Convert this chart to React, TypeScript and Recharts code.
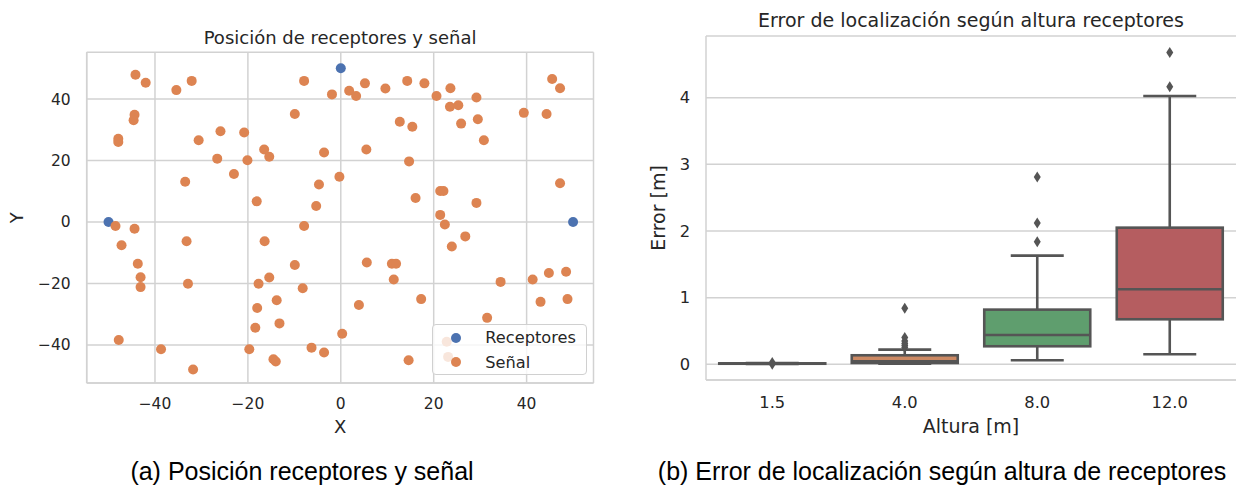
import {
  ScatterChart,
  Scatter,
  ComposedChart,
  Bar,
  XAxis,
  YAxis,
  CartesianGrid,
  Legend,
} from "recharts";

// Posición de los receptores [m]
const receptoresX = [-50, 0, 50];
const receptoresY = [0, 50, 0];

// Posición de las señales emitidas [m]
const senalX = [
  -44.2, -42.0, -35.4, -32.1, -7.9, -1.9, -9.9, -44.4, -44.6, -47.9, -47.9, -30.6, -25.9, -20.8,
  -16.5, -15.4, -26.6, -20.1, -3.6, -23.0, -33.5, -4.7, -0.3, -18.1, -5.3, 1.8, 3.3, 5.2, 9.6,
  14.3, 18.0, 20.6, 23.6, 23.5, 25.3, 29.2, 45.5, 47.2, 39.4, 44.3, 12.7, 15.4, 25.9, 29.5, 30.8,
  5.5, 14.7, 21.4, 22.1, 16.1, 29.2, 21.4, 22.4, 26.8, 23.9, 47.2, -48.5, -44.4, -47.2, -33.2,
  -16.4, -7.9, -43.7, -43.1, -43.1, -32.9, -9.9, -15.4, -17.7, -8.2, -13.8, -18.0, -13.2, -18.4,
  -47.8, -38.7, -19.7, -6.3, -3.6, -14.5, -14.0, -31.8, 0.3, 5.6, 11.0, 11.9, 11.4, 17.3, 3.9,
  14.6, 34.4, 31.5, 41.3, 44.8, 48.5, 43.0, 48.8, 22.8, 23.1,
];
const senalY = [
  47.9, 45.3, 42.9, 45.9, 45.9, 41.5, 35.1, 34.9, 33.1, 27.1, 26.0, 26.6, 29.5, 29.1, 23.6, 21.2,
  20.6, 20.1, 22.6, 15.6, 13.1, 12.2, 14.7, 6.7, 5.2, 42.7, 41.0, 45.1, 43.4, 45.9, 45.1, 41.0,
  43.5, 37.5, 38.0, 40.5, 46.5, 43.5, 35.5, 35.1, 32.6, 31.0, 32.0, 33.4, 26.6, 23.6, 19.7, 10.1,
  10.1, 7.8, 6.2, 2.3, -0.8, -4.7, -8.0, 12.6, -1.3, -2.2, -7.6, -6.3, -6.3, -1.3, -13.6, -18.0,
  -21.2, -20.1, -14.0, -18.1, -20.1, -21.6, -25.5, -28.0, -33.0, -34.4, -38.4, -41.4, -41.4,
  -40.9, -42.5, -44.7, -45.4, -48.0, -36.4, -13.2, -13.6, -13.6, -18.7, -25.1, -27.0, -45.0,
  -19.5, -31.2, -18.7, -16.6, -16.2, -26.0, -25.1, -39.0, -43.9,
];
const ticksPosicion = [-40, -20, 0, 20, 40];

// Error de localización [m] por altura de los receptores
const alturas = ["1.5", "4.0", "8.0", "12.0"];
const bigoteInf = [0.004, 0.01, 0.06, 0.15];
const cuartil1 = [0.008, 0.02, 0.27, 0.675];
const mediana = [0.011, 0.045, 0.44, 1.125];
const cuartil3 = [0.014, 0.135, 0.82, 2.05];
const bigoteSup = [0.02, 0.22, 1.63, 4.025];
const atipicos = [
  [0.0, 0.025],
  [0.25, 0.28, 0.31, 0.35, 0.4, 0.84],
  [1.84, 2.12, 2.81],
  [4.165, 4.68],
];
const ticksError = [0, 1, 2, 3, 4];

const colorReceptor = "#4c72b0";
const colorSenal = "#dd8452";
const coloresCaja = ["#5975a4", "#cc8963", "#5f9e6e", "#b55d60"];
const colorLinea = "#555555";
const colorRejilla = "#d2d2d2";
const colorTexto = "#262626";

const receptores = receptoresX.map((x, i) => ({ x, y: receptoresY[i] }));
const senales = senalX.map((x, i) => ({ x, y: senalY[i] }));

const filasCaja = alturas.map((altura, i) => ({
  altura,
  bigotes: [bigoteInf[i], bigoteSup[i]],
  q1: cuartil1[i],
  mediana: mediana[i],
  q3: cuartil3[i],
}));
const puntosAtipicos = alturas.flatMap((altura, i) =>
  atipicos[i].map((error) => ({ altura, error }))
);

const menos = (v: number) => (v < 0 ? `\u2212${Math.abs(v)}` : `${v}`);

const punto = (color: string) => (p: any) => (
  <circle cx={p.cx} cy={p.cy} r={5} fill={color} />
);

const Rombo = (p: any) => (
  <polygon
    points={`${p.cx},${p.cy - 5.5} ${p.cx + 3.5},${p.cy} ${p.cx},${p.cy + 5.5} ${p.cx - 3.5},${p.cy}`}
    fill={colorLinea}
  />
);

// caja + bigotes + mediana; la barra ocupa el rango de los bigotes
const CajaBigotes = (props: any) => {
  const { x, y, width, height, payload, index } = props;
  const [lo, hi] = payload.bigotes;
  const py = (v: number) => y + (height * (hi - v)) / (hi - lo);
  const cx = x + width / 2;
  const tope = width / 4;
  const yq1 = py(payload.q1);
  const yq3 = py(payload.q3);
  const ym = py(payload.mediana);
  return (
    <g stroke={colorLinea} strokeWidth={2.6}>
      <line x1={cx} x2={cx} y1={py(hi)} y2={yq3} />
      <line x1={cx} x2={cx} y1={yq1} y2={py(lo)} />
      <line x1={cx - tope} x2={cx + tope} y1={py(hi)} y2={py(hi)} />
      <line x1={cx - tope} x2={cx + tope} y1={py(lo)} y2={py(lo)} />
      <rect x={x} y={yq3} width={width} height={yq1 - yq3} fill={coloresCaja[index]} />
      <line x1={x} x2={x + width} y1={ym} y2={ym} />
    </g>
  );
};

const LeyendaPosicion = ({ payload }: any) => (
  <div
    style={{
      background: "rgba(255,255,255,0.8)",
      border: "1px solid #d0d0d0",
      borderRadius: 4,
      padding: "0 6px 0 17px",
      height: 51,
      boxSizing: "border-box",
      fontSize: 16.2,
      color: colorTexto,
    }}
  >
    {(payload ?? []).map((p: any) => (
      <div key={p.value} style={{ display: "flex", alignItems: "center", height: 24.7 }}>
        <svg width={12} height={12} style={{ marginRight: 23 }}>
          <circle cx={6} cy={6} r={5} fill={p.color} />
        </svg>
        <span>{p.value}</span>
      </div>
    ))}
  </div>
);

const eje = { stroke: colorRejilla, strokeWidth: 1.5 };

export default function App() {
  return (
    <div
      style={{
        position: "absolute",
        left: 0,
        top: 0,
        width: 1236,
        height: 489,
        overflow: "hidden",
        background: "#fff",
        fontFamily: "DejaVu Sans",
        color: colorTexto,
      }}
    >
      <div
        style={{
          position: "absolute",
          left: 86.7,
          width: 506.8,
          top: 27.8,
          lineHeight: "20px",
          fontSize: 18,
          textAlign: "center",
        }}
      >
        Posición de receptores y señal
      </div>
      <div style={{ position: "absolute", left: 0, top: 0 }}>
        <ScatterChart width={620} height={445} margin={{ top: 52.3, right: 26.5, bottom: 12, left: 0 }}>
          <CartesianGrid stroke={colorRejilla} strokeWidth={1.5} />
          <XAxis
            type="number"
            dataKey="x"
            domain={[-54.7, 54.4]}
            ticks={ticksPosicion}
            tickFormatter={menos}
            tickLine={false}
            axisLine={eje}
            tickMargin={9}
            height={50}
            tick={{ fill: colorTexto, fontSize: 15.5 }}
            label={{ value: "X", position: "insideBottom", offset: 0, fill: colorTexto, fontSize: 18 }}
          />
          <YAxis
            type="number"
            dataKey="y"
            domain={[-52.4, 55.2]}
            ticks={ticksPosicion}
            tickFormatter={menos}
            tickLine={false}
            axisLine={eje}
            tickMargin={10}
            width={86.7}
            tick={{ fill: colorTexto, fontSize: 15.5 }}
            label={{ value: "Y", angle: -90, position: "center", dx: -26.7, fill: colorTexto, fontSize: 18 }}
          />
          <XAxis xAxisId="marco" orientation="top" type="number" domain={[-54.7, 54.4]} tick={false} tickLine={false} axisLine={eje} height={0} />
          <YAxis yAxisId="marco" orientation="right" type="number" domain={[-52.4, 55.2]} tick={false} tickLine={false} axisLine={eje} width={0} />
          <Scatter name="Receptores" data={receptores} fill={colorReceptor} shape={punto(colorReceptor)} isAnimationActive={false} />
          <Scatter name="Señal" data={senales} fill={colorSenal} shape={punto(colorSenal)} isAnimationActive={false} />
          <Legend
            layout="vertical"
            align="center"
            verticalAlign="middle"
            content={<LeyendaPosicion />}
            wrapperStyle={{ left: 432.3, top: 324.3, width: 155 }}
          />
        </ScatterChart>
      </div>

      <div
        style={{
          position: "absolute",
          left: 706,
          width: 530,
          top: 8.9,
          lineHeight: "22px",
          fontSize: 19,
          textAlign: "center",
        }}
      >
        Error de localización según altura receptores
      </div>
      <div style={{ position: "absolute", left: 620, top: 0 }}>
        <ComposedChart
          width={616}
          height={445}
          data={filasCaja}
          barCategoryGap="10%"
          margin={{ top: 36, right: 0, bottom: 10, left: 0 }}
        >
          <CartesianGrid vertical={false} stroke={colorRejilla} strokeWidth={1.5} />
          <XAxis
            dataKey="altura"
            type="category"
            allowDuplicatedCategory={false}
            tickLine={false}
            axisLine={eje}
            tickMargin={10.5}
            height={55}
            tick={{ fill: colorTexto, fontSize: 16.3 }}
            label={{ value: "Altura [m]", position: "insideBottom", offset: 2, fill: colorTexto, fontSize: 19 }}
          />
          <YAxis
            type="number"
            domain={[-0.236, 4.926]}
            ticks={ticksError}
            allowDataOverflow
            tickLine={false}
            axisLine={eje}
            tickMargin={10}
            width={86}
            tick={{ fill: colorTexto, fontSize: 16.3 }}
            label={{ value: "Error [m]", angle: -90, position: "center", dx: -5, fill: colorTexto, fontSize: 19 }}
          />
          <XAxis xAxisId="marco" orientation="top" dataKey="altura" allowDuplicatedCategory={false} tick={false} tickLine={false} axisLine={eje} height={0} />
          <Bar dataKey="bigotes" shape={CajaBigotes} isAnimationActive={false} />
          <Scatter data={puntosAtipicos} dataKey="error" shape={Rombo} isAnimationActive={false} />
        </ComposedChart>
      </div>

      <div
        style={{
          position: "absolute",
          left: 0,
          width: 604,
          top: 456.3,
          lineHeight: "30px",
          fontSize: 25,
          fontFamily: "Liberation Sans",
          color: "#000",
          textAlign: "center",
        }}
      >
        (a) Posición receptores y señal
      </div>
      <div
        style={{
          position: "absolute",
          left: 642,
          width: 600,
          top: 456.3,
          lineHeight: "30px",
          fontSize: 25,
          fontFamily: "Liberation Sans",
          color: "#000",
          textAlign: "center",
        }}
      >
        (b) Error de localización según altura de receptores
      </div>
    </div>
  );
}
